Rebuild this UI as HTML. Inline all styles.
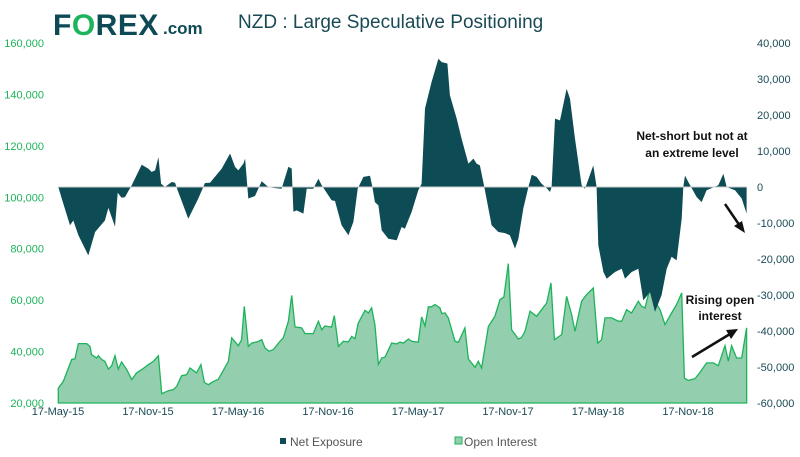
<!DOCTYPE html>
<html><head><meta charset="utf-8"><style>
body{margin:0;background:#fff;}
svg{display:block;font-family:"Liberation Sans",sans-serif;}
</style></head><body>
<svg id="chart" width="800" height="457" viewBox="0 0 800 457">
<g>
<text x="53" y="35" font-size="30" font-weight="bold" fill="#0d4a55" letter-spacing="0.5">F<tspan fill="#1db35a">O</tspan>REX</text>
<text x="163" y="34" font-size="17" font-weight="bold" fill="#0d4a55">.com</text>
</g>
<text x="238" y="28" font-size="19" fill="#1a4a55">NZD : Large Speculative Positioning</text>
<g id="leftAxis"></g>
<g id="rightAxis"></g>
<g id="xAxis"></g>
<g id="plot"></g>
<g>
<text x="692" y="140" font-size="12" font-weight="bold" text-anchor="middle" fill="#111">Net-short but not at</text>
<text x="692" y="157" font-size="12" font-weight="bold" text-anchor="middle" fill="#111">an extreme level</text>
<line x1="725" y1="204" x2="740" y2="226" stroke="#111" stroke-width="2.5"/>
<polygon points="745,233 734,226 742,221" fill="#111"/>
</g>
<g>
<text x="720" y="304" font-size="12" font-weight="bold" text-anchor="middle" fill="#111">Rising open</text>
<text x="720" y="320" font-size="12" font-weight="bold" text-anchor="middle" fill="#111">interest</text>
<line x1="692" y1="357" x2="730" y2="334" stroke="#111" stroke-width="2.5"/>
<polygon points="738,329 726,330 731,339" fill="#111"/>
</g>
<g>
<rect x="280" y="438" width="6" height="6" fill="#0e4c55"/>
<text x="290" y="446" font-size="12" fill="#555">Net Exposure</text>
<rect x="455" y="437" width="7" height="7" fill="#93cfae" stroke="#1db35a"/>
<text x="464" y="446" font-size="12" fill="#555">Open Interest</text>
</g>
</svg>
<script>
const xTickLabels=["17-May-15","17-Nov-15","17-May-16","17-Nov-16","17-May-17","17-Nov-17","17-May-18","17-Nov-18"];
const xTickMonths=[0,6,12,18,24,30,36,42];
const leftTicks=[20000,40000,60000,80000,100000,120000,140000,160000];
const rightTicks=[-60000,-50000,-40000,-30000,-20000,-10000,0,10000,20000,30000,40000];
// months since 17-May-15
const netMonths=[0.02,0.35,0.8,1.02,1.36,2.02,2.47,3.13,3.36,3.8,3.98,4.24,4.47,4.91,5.58,6.02,6.24,6.47,6.69,6.87,7.13,7.58,7.8,8.02,8.69,9.35,9.8,10.13,10.91,11.47,11.8,12.02,12.36,12.47,12.69,13.13,13.58,14.02,14.47,14.91,15.36,15.58,15.69,15.91,16.36,16.58,17.02,17.36,17.58,18.24,18.47,18.91,19.36,19.69,19.98,20.36,20.8,20.96,21.13,21.36,21.58,22.02,22.58,22.91,23.13,23.58,24.02,24.24,24.47,24.91,25.36,25.58,25.96,26.13,26.58,26.91,27.36,27.69,27.91,28.13,28.42,28.91,29.36,29.8,30.13,30.47,30.69,31.02,31.36,31.58,31.91,32.24,32.58,32.8,32.91,33.13,33.47,33.91,34.13,34.47,34.91,35.13,35.69,35.91,36.02,36.36,36.58,37.13,37.58,37.8,38.24,38.69,39.02,39.47,39.8,40.24,40.58,40.91,41.24,41.58,41.69,41.8,42.02,42.58,42.91,43.24,44.02,44.36,44.58,45.13,45.58,45.91];
const netValues=[0,-4.6,-10.6,-9.3,-13.4,-19,-12.5,-9.3,-5.8,-11,-1.6,-3,-2.8,0.5,6.2,5.1,4.2,4.6,8.3,0.9,0,1.4,1.2,-1.4,-8.8,-3.2,1.1,1.2,5.1,9.3,5.6,4.6,6.5,7.9,-3.2,-2.5,1.6,0,-0.3,-0.5,5.6,5.1,-6.9,-6.5,-7.4,-0.5,-0.5,2.3,0.5,-3.7,-3.9,-10.6,-13.4,-9.7,-0.5,2.8,3.1,0,-4.2,-5.1,-12,-14.4,-14.8,-11.1,-11.6,-6.9,-0.9,0.9,21.8,29.2,35.6,34.7,34.3,25.5,19,13.4,6.5,7.9,6.5,6,0,-10.6,-12.5,-12.8,-13.4,-17.1,-14.4,-6,0,3.4,2.8,0.9,-0.3,-1.4,0,19,18.5,27.3,24.5,13.4,0.5,-0.5,6,0,-16.2,-23.6,-25.5,-23.6,-22.7,-25.5,-23.6,-22.7,-31.5,-29.2,-34.7,-30,-22.7,-19.4,-20.4,-8.8,0,3.2,1.4,-2.8,-4.2,-0.9,0.5,3.7,0,-0.9,-3.2,-7.4];
const oiMonths=[0.02,0.35,0.91,1.13,1.36,1.91,2.13,2.24,2.58,2.69,2.91,3.13,3.36,3.58,3.8,4.02,4.24,4.58,4.91,5.24,5.58,6.02,6.36,6.69,6.91,7.36,7.69,7.91,8.24,8.58,8.8,9.24,9.53,9.76,10.02,10.36,10.69,11.36,11.58,12.02,12.24,12.42,12.69,12.91,13.36,13.58,13.8,14.07,14.36,14.8,15.02,15.36,15.58,15.8,16.24,16.47,17.02,17.36,17.58,17.8,18.24,18.42,18.69,19.02,19.36,19.58,19.8,20.02,20.47,20.69,20.91,21.13,21.36,21.58,21.8,22.24,22.58,22.8,23.02,23.36,23.58,24.02,24.24,24.47,24.69,24.91,25.13,25.47,25.58,25.8,26.02,26.47,26.69,27.13,27.36,27.8,28.02,28.24,28.69,29.13,29.47,29.73,30.02,30.24,30.69,30.91,31.13,31.47,31.91,32.24,32.58,32.87,33.09,33.58,33.91,34.24,34.47,34.91,35.24,35.69,35.98,36.24,36.47,36.91,37.36,37.58,37.91,38.24,38.69,38.91,39.13,39.47,39.8,40.13,40.47,40.91,41.24,41.58,41.76,42.02,42.47,42.8,43.24,43.69,44.02,44.47,44.69,44.91,45.24,45.58,45.91];
const oiValues=[25.8,28.4,36.9,37.2,43.1,43.1,42,38.8,37.5,38.4,36.9,36.2,33.2,34.5,38.4,33.2,36,33,29.1,31.7,33,34.9,36.2,38.4,23.6,24.8,25.2,26.5,30.6,31,33.6,31.7,34.9,28,27.1,28.4,29.2,36.2,45.3,42.3,44.6,57.6,42,43.3,43.9,44.6,41.4,40.1,40.8,44,45.3,51.8,61.8,49.6,49.2,47,47,51.8,48.5,50,49.5,54,42,44,43.8,45.9,45,51.1,56,55,57,50.5,35,37.5,37.8,43.3,43,43.7,43.3,44.9,44,43.7,53.5,50,57.4,57.4,58.3,57,54.8,55,53.1,44,43.6,49.2,37.1,33.9,36.2,33.6,49.8,53.7,60.2,61.2,74.2,48.5,44.9,45.5,47.9,55.7,53.7,56.3,58.9,66.7,44.6,46.6,61.5,54.4,47.9,59.6,62.2,64.7,43.3,44.6,53.1,53.1,51.8,51.8,56.3,55,59.6,57.6,57,64.7,59.6,56.3,50.5,55,58.3,62.8,29.7,28.8,29.5,31.9,35.6,35.6,34.5,42.3,36.2,42.3,37.5,37.5,49.2];

const NS="http://www.w3.org/2000/svg";
const X0=58, PXM=15, TOP=43, BOT=403;
const xS=m=>X0+m*PXM;
const yL=v=>BOT-(v-20000)/140000*(BOT-TOP);
const yR=v=>BOT-(v+60000)/100000*(BOT-TOP);
const fmt=v=>v.toLocaleString('en-US');
function mk(tag,attrs,parent){const e=document.createElementNS(NS,tag);for(const k in attrs)e.setAttribute(k,attrs[k]);parent.appendChild(e);return e;}
const la=document.getElementById('leftAxis'),ra=document.getElementById('rightAxis'),xa=document.getElementById('xAxis'),plot=document.getElementById('plot');
leftTicks.forEach(v=>{const t=mk('text',{x:44,y:yL(v)+4,'font-size':11,'text-anchor':'end',fill:'#1db35a'},la);t.textContent=fmt(v);

});
rightTicks.forEach(v=>{const t=mk('text',{x:757,y:yR(v)+4,'font-size':11,fill:'#1a4a55'},ra);t.textContent=fmt(v);

});
xTickLabels.forEach((l,i)=>{const t=mk('text',{x:xS(xTickMonths[i]),y:415,'font-size':11,'text-anchor':'middle',fill:'#1a4a55'},xa);t.textContent=l;

});
let d='M'+xS(oiMonths[0])+','+BOT;
oiMonths.forEach((m,i)=>{d+=' L'+xS(m).toFixed(1)+','+yL(oiValues[i]*1000).toFixed(1);});
const oiArea=mk('path',{d:d+' L'+xS(oiMonths[oiMonths.length-1])+','+BOT+' Z',fill:'#93cfae'},plot);


let ld='';oiMonths.forEach((m,i)=>{ld+=(i?' L':'M')+xS(m).toFixed(1)+','+yL(oiValues[i]*1000).toFixed(1);});
ld+=' L'+xS(oiMonths[oiMonths.length-1])+','+BOT+' L'+xS(oiMonths[0])+','+BOT+' Z';
const oiLine=mk('path',{d:ld,fill:'none',stroke:'#1db35a','stroke-width':1.3},plot);


const z=yR(0);
let nd='M'+xS(netMonths[0])+','+z;
netMonths.forEach((m,i)=>{nd+=' L'+xS(m).toFixed(1)+','+yR(netValues[i]*1000).toFixed(1);});
nd+=' L'+xS(netMonths[netMonths.length-1])+','+z+' Z';
const na=mk('path',{d:nd,fill:'#0e4c55'},plot);


const zl=mk('line',{x1:X0,x2:xS(netMonths[netMonths.length-1]),y1:z,y2:z,stroke:'#ccc','stroke-width':1},plot);


</script>
</body></html>
